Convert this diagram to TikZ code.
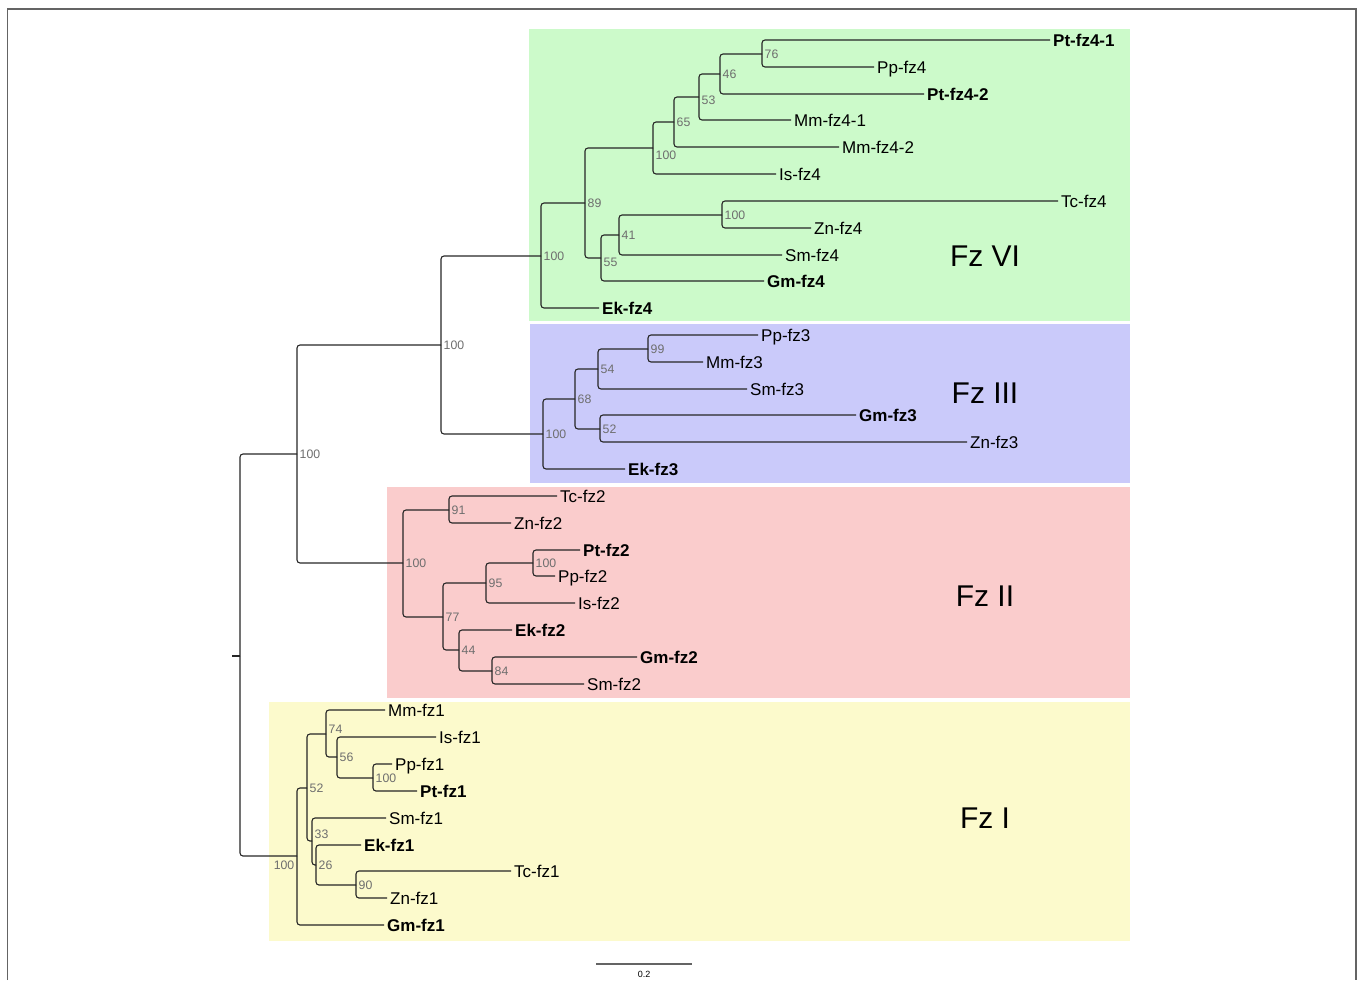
\documentclass[tikz,border=0pt]{standalone}
\usepackage{fontspec}
\setmainfont{Liberation Sans}
\definecolor{fzsix}{RGB}{204,250,202}
\definecolor{fzthree}{RGB}{202,202,250}
\definecolor{fztwo}{RGB}{250,204,204}
\definecolor{fzone}{RGB}{252,250,204}
\definecolor{framegray}{RGB}{100,100,100}
\definecolor{bootgray}{RGB}{110,110,110}
\tikzset{
  branch/.style={draw=black!85, line width=1.1pt, rounded corners=3pt},
  leaf/.style={anchor=west, inner sep=3pt, text height=12.2pt, text depth=0pt, font=\fontsize{17}{20}\selectfont},
  leafb/.style={leaf, font=\fontsize{17}{20}\selectfont\bfseries},
  boot/.style={anchor=west, inner sep=2.5pt, text height=8.8pt, text depth=0pt, text=bootgray, font=\fontsize{12.3}{14}\selectfont},
  clade/.style={inner sep=0pt, font=\fontsize{30}{34}\selectfont}
}
\begin{document}
\begin{tikzpicture}[x=1pt,y=-1pt]
\useasboundingbox (0,0) rectangle (1360,980);
\draw[framegray, line width=1.5pt] (7.5,980) -- (7.5,9) -- (1356,9) -- (1356,980);

\fill[fzsix] (529,29) rectangle (1130,321);
\fill[fzthree] (530,324) rectangle (1130,483);
\fill[fztwo] (387,487) rectangle (1130,698);
\fill[fzone] (269,702) rectangle (1130,941);

\node[clade] (fzvi) at (985,256) {Fz VI};
\node[clade] (fziii) at (985,393) {Fz III};
\node[clade] (fzii) at (985,596) {Fz II};
\node[clade] (fzi) at (985,818) {Fz I};

\node[leafb] (ptfz41) at (1050,40) {Pt-fz4-1};
\node[leaf] (ppfz4) at (874,67) {Pp-fz4};
\node[leafb] (ptfz42) at (924,94) {Pt-fz4-2};
\node[leaf] (mmfz41) at (791,120) {Mm-fz4-1};
\node[leaf] (mmfz42) at (839,147) {Mm-fz4-2};
\node[leaf] (isfz4) at (776,174) {Is-fz4};
\node[leaf] (tcfz4) at (1058,201) {Tc-fz4};
\node[leaf] (znfz4) at (811,228) {Zn-fz4};
\node[leaf] (smfz4) at (782,255) {Sm-fz4};
\node[leafb] (gmfz4) at (764,281) {Gm-fz4};
\node[leafb] (ekfz4) at (599,308) {Ek-fz4};
\node[leaf] (ppfz3) at (758,335) {Pp-fz3};
\node[leaf] (mmfz3) at (703,362) {Mm-fz3};
\node[leaf] (smfz3) at (747,389) {Sm-fz3};
\node[leafb] (gmfz3) at (856,415) {Gm-fz3};
\node[leaf] (znfz3) at (967,442) {Zn-fz3};
\node[leafb] (ekfz3) at (625,469) {Ek-fz3};
\node[leaf] (tcfz2) at (557,496) {Tc-fz2};
\node[leaf] (znfz2) at (511,523) {Zn-fz2};
\node[leafb] (ptfz2) at (580,550) {Pt-fz2};
\node[leaf] (ppfz2) at (555,576) {Pp-fz2};
\node[leaf] (isfz2) at (575,603) {Is-fz2};
\node[leafb] (ekfz2) at (512,630) {Ek-fz2};
\node[leafb] (gmfz2) at (637,657) {Gm-fz2};
\node[leaf] (smfz2) at (584,684) {Sm-fz2};
\node[leaf] (mmfz1) at (385,710) {Mm-fz1};
\node[leaf] (isfz1) at (436,737) {Is-fz1};
\node[leaf] (ppfz1) at (392,764) {Pp-fz1};
\node[leafb] (ptfz1) at (417,791) {Pt-fz1};
\node[leaf] (smfz1) at (386,818) {Sm-fz1};
\node[leafb] (ekfz1) at (361,845) {Ek-fz1};
\node[leaf] (tcfz1) at (511,871) {Tc-fz1};
\node[leaf] (znfz1) at (387,898) {Zn-fz1};
\node[leafb] (gmfz1) at (384,925) {Gm-fz1};

\coordinate (base) at (232,656);
\coordinate (root) at (240,656);
\coordinate (upper) at (297,454);
\coordinate (sixthree) at (441,345);
\coordinate (six) at (541,256);
\coordinate (n89) at (585,203);
\coordinate (n100a) at (653,148);
\coordinate (n65) at (674,122);
\coordinate (n53) at (699,97);
\coordinate (n46) at (720,74);
\coordinate (n76) at (762,54);
\coordinate (n55) at (601,258);
\coordinate (n41) at (619,235);
\coordinate (n100b) at (722,215);
\coordinate (three) at (543,434);
\coordinate (n68) at (575,399);
\coordinate (n54) at (598,369);
\coordinate (n99) at (648,349);
\coordinate (n52a) at (600,429);
\coordinate (two) at (403,563);
\coordinate (n91) at (449,510);
\coordinate (n77) at (443,617);
\coordinate (n95) at (486,583);
\coordinate (n100c) at (533,563);
\coordinate (n44) at (459,650);
\coordinate (n84) at (492,671);
\coordinate (one) at (297,856);
\coordinate (n52b) at (307,788);
\coordinate (n74) at (326,734);
\coordinate (n56) at (337,757);
\coordinate (n100d) at (373,778);
\coordinate (n33) at (312,841);
\coordinate (n26) at (316,865);
\coordinate (n90) at (356,885);

\draw[branch] (base) -- (root);
\draw[branch] (root) |- (upper);
\draw[branch] (root) |- (one);
\draw[branch] (upper) |- (sixthree);
\draw[branch] (upper) |- (two);
\draw[branch] (sixthree) |- (six);
\draw[branch] (sixthree) |- (three);

\draw[branch] (six) |- (n89);
\draw[branch] (six) |- (ekfz4.west);
\draw[branch] (n89) |- (n100a);
\draw[branch] (n89) |- (n55);
\draw[branch] (n100a) |- (n65);
\draw[branch] (n100a) |- (isfz4.west);
\draw[branch] (n65) |- (n53);
\draw[branch] (n65) |- (mmfz42.west);
\draw[branch] (n53) |- (n46);
\draw[branch] (n53) |- (mmfz41.west);
\draw[branch] (n46) |- (n76);
\draw[branch] (n46) |- (ptfz42.west);
\draw[branch] (n76) |- (ptfz41.west);
\draw[branch] (n76) |- (ppfz4.west);
\draw[branch] (n55) |- (n41);
\draw[branch] (n55) |- (gmfz4.west);
\draw[branch] (n41) |- (n100b);
\draw[branch] (n41) |- (smfz4.west);
\draw[branch] (n100b) |- (tcfz4.west);
\draw[branch] (n100b) |- (znfz4.west);

\draw[branch] (three) |- (n68);
\draw[branch] (three) |- (ekfz3.west);
\draw[branch] (n68) |- (n54);
\draw[branch] (n68) |- (n52a);
\draw[branch] (n54) |- (n99);
\draw[branch] (n54) |- (smfz3.west);
\draw[branch] (n99) |- (ppfz3.west);
\draw[branch] (n99) |- (mmfz3.west);
\draw[branch] (n52a) |- (gmfz3.west);
\draw[branch] (n52a) |- (znfz3.west);

\draw[branch] (two) |- (n91);
\draw[branch] (two) |- (n77);
\draw[branch] (n91) |- (tcfz2.west);
\draw[branch] (n91) |- (znfz2.west);
\draw[branch] (n77) |- (n95);
\draw[branch] (n77) |- (n44);
\draw[branch] (n95) |- (n100c);
\draw[branch] (n95) |- (isfz2.west);
\draw[branch] (n100c) |- (ptfz2.west);
\draw[branch] (n100c) |- (ppfz2.west);
\draw[branch] (n44) |- (ekfz2.west);
\draw[branch] (n44) |- (n84);
\draw[branch] (n84) |- (gmfz2.west);
\draw[branch] (n84) |- (smfz2.west);

\draw[branch] (one) |- (n52b);
\draw[branch] (one) |- (gmfz1.west);
\draw[branch] (n52b) |- (n74);
\draw[branch] (n52b) |- (n33);
\draw[branch] (n74) |- (mmfz1.west);
\draw[branch] (n74) |- (n56);
\draw[branch] (n56) |- (isfz1.west);
\draw[branch] (n56) |- (n100d);
\draw[branch] (n100d) |- (ppfz1.west);
\draw[branch] (n100d) |- (ptfz1.west);
\draw[branch] (n33) |- (smfz1.west);
\draw[branch] (n33) |- (n26);
\draw[branch] (n26) |- (ekfz1.west);
\draw[branch] (n26) |- (n90);
\draw[branch] (n90) |- (tcfz1.west);
\draw[branch] (n90) |- (znfz1.west);

\node[boot] (bupper) at (upper) {100};
\node[boot] (bsixthree) at (sixthree) {100};
\node[boot] (bsix) at (six) {100};
\node[boot] (b89) at (n89) {89};
\node[boot, yshift=-7pt] (b100a) at (n100a) {100};
\node[boot] (b65) at (n65) {65};
\node[boot, yshift=-3pt] (b53) at (n53) {53};
\node[boot] (b46) at (n46) {46};
\node[boot] (b76) at (n76) {76};
\node[boot, yshift=-4pt] (b55) at (n55) {55};
\node[boot] (b41) at (n41) {41};
\node[boot] (b100b) at (n100b) {100};
\node[boot] (bthree) at (three) {100};
\node[boot] (b68) at (n68) {68};
\node[boot] (b54) at (n54) {54};
\node[boot] (b99) at (n99) {99};
\node[boot] (b52a) at (n52a) {52};
\node[boot] (btwo) at (two) {100};
\node[boot] (b91) at (n91) {91};
\node[boot] (b77) at (n77) {77};
\node[boot] (b95) at (n95) {95};
\node[boot] (b100c) at (n100c) {100};
\node[boot] (b44) at (n44) {44};
\node[boot] (b84) at (n84) {84};
\node[boot, anchor=north east, yshift=-2pt] (bone) at (one) {100};
\node[boot] (b52b) at (n52b) {52};
\node[boot, yshift=5pt] (b74) at (n74) {74};
\node[boot] (b56) at (n56) {56};
\node[boot] (b100d) at (n100d) {100};
\node[boot, yshift=7pt] (b33) at (n33) {33};
\node[boot] (b26) at (n26) {26};
\node[boot] (b90) at (n90) {90};

\coordinate (scalel) at (596,964);
\coordinate (scaler) at (692,964);
\draw[framegray, line width=1.2pt] (scalel) -- (scaler);
\node[font=\fontsize{9}{10}\selectfont, inner sep=1pt] (scaletxt) at (644,974) {0.2};
\end{tikzpicture}
\end{document}
